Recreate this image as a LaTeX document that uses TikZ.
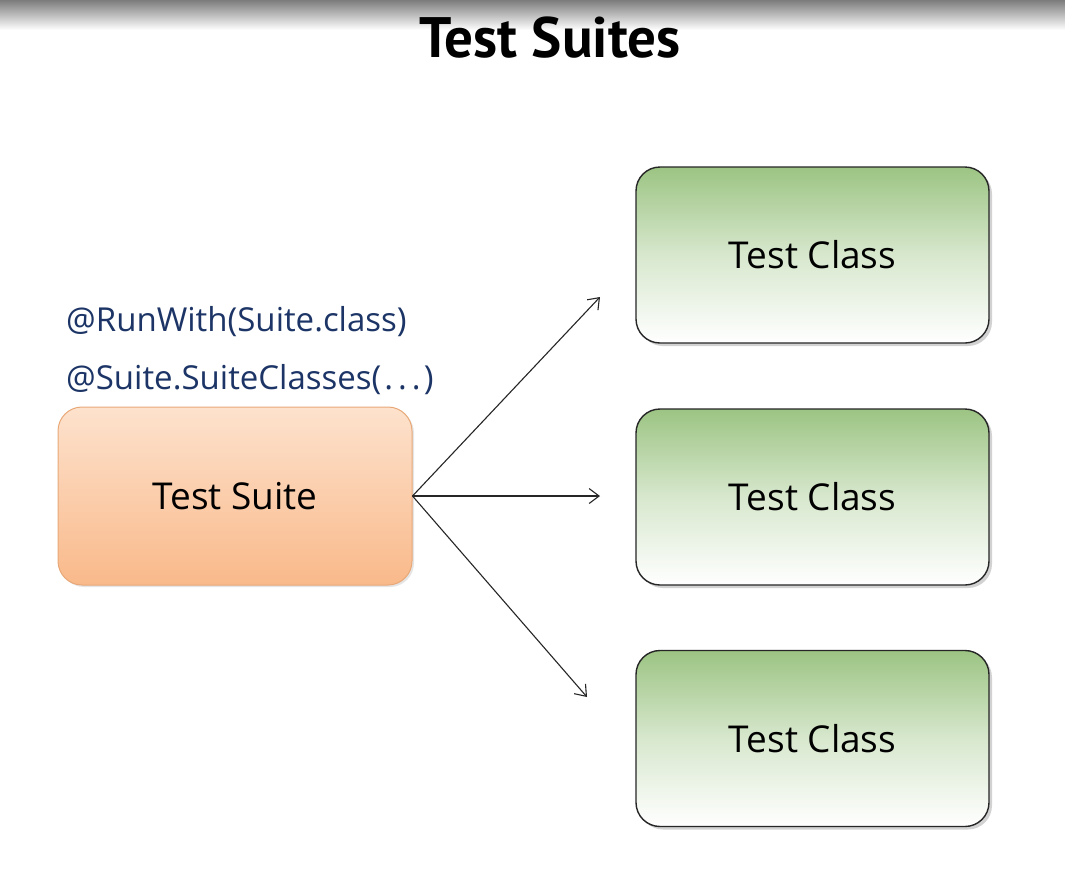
\documentclass[tikz,border=0pt]{standalone}
\usepackage{fontspec}
\setmainfont{Open Sans}
\newfontfamily\titlefont{PT Sans}
\usetikzlibrary{shadows,arrows.meta}
\definecolor{greentop}{HTML}{9CC483}
\definecolor{orangetop}{HTML}{FDE2CD}
\definecolor{orangebot}{HTML}{F9B98A}
\definecolor{orangeedge}{HTML}{E8A878}
\definecolor{navy}{HTML}{1C3566}
\definecolor{bartop}{HTML}{7C7C7C}
\tikzset{
  classbox/.style={draw=black!85, line width=1.4pt, rounded corners=24pt,
    minimum width=353pt, minimum height=176pt,
    top color=greentop, bottom color=white, middle color=greentop!40!white,
    drop shadow={opacity=0.35, shadow xshift=3pt, shadow yshift=-3pt},
    font=\fontsize{37}{42}\selectfont},
  suitebox/.style={draw=orangeedge, line width=1pt, rounded corners=24pt,
    minimum width=354pt, minimum height=178pt,
    top color=orangetop, bottom color=orangebot,
    drop shadow={opacity=0.2, shadow xshift=2pt, shadow yshift=-2pt},
    font=\fontsize{37}{42}\selectfont},
  annot/.style={text=navy, anchor=base west, inner sep=0pt, font=\fontsize{33}{38}\selectfont},
  link/.style={-{Straight Barb[length=10pt,width=15pt]}, line width=1.1pt, black!85}
}
\begin{document}
\begin{tikzpicture}[x=1pt,y=-1pt]
\useasboundingbox (0,0) rectangle (1065,868);
\fill[white] (0,0) rectangle (1065,868);
\shade[top color=bartop, bottom color=white] (0,0) rectangle (1065,30);
\node[font=\titlefont\bfseries\fontsize{57}{62}\selectfont, inner sep=0pt] (title) at (550,38) {Test Suites};
\node[suitebox] (suite) at (235,496) {Test Suite};
\node[classbox] (c1) at (812.5,255) {Test Class};
\node[classbox] (c2) at (812.5,497) {Test Class};
\node[classbox] (c3) at (812.5,738.5) {Test Class};
\node[annot] (a1) at (66,331) {@RunWith(Suite.class)};
\node[annot] (a2) at (66,389) {@Suite.SuiteClasses(\hspace{3pt}.\hspace{5pt}.\hspace{5pt}.\hspace{3pt})};
\coordinate (e1) at (600,297);
\coordinate (e2) at (600,496);
\coordinate (e3) at (587,697);
\draw[link] (suite.east) -- (e1);
\draw[link] (suite.east) -- (e2);
\draw[link] (suite.east) -- (e3);
\end{tikzpicture}
\end{document}
